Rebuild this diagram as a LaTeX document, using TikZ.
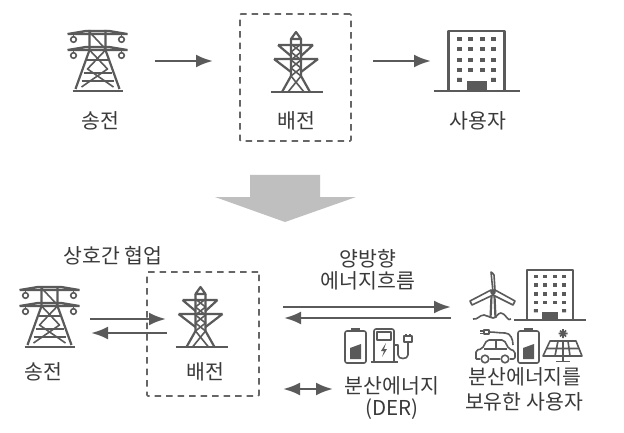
\documentclass[tikz,border=0pt]{standalone}
\usepackage{fontspec}
\setmainfont{Noto Sans CJK KR}
\usetikzlibrary{arrows.meta}
\definecolor{ink}{HTML}{5A5A5A}
\definecolor{txt}{HTML}{3A3A3A}
\definecolor{dash}{HTML}{666666}
\definecolor{bigar}{HTML}{BFBFBF}
\tikzset{
 x=1pt,y=-1pt,
 icon/.style={draw=ink,line width=2.2pt,line join=round},
 thin icon/.style={draw=ink,line width=1.6pt,line join=round},
 lbl/.style={text=txt,font=\fontsize{20.5}{24}\selectfont,inner sep=0pt},
 boxd/.style={draw=dash,line width=1.7pt,dash pattern=on 6.5pt off 5pt},
 conn/.style={draw=ink,line width=2.7pt,-{Latex[length=17pt,width=13pt]}},
 connb/.style={draw=ink,line width=2.7pt,{Latex[length=17pt,width=13pt]}-{Latex[length=17pt,width=13pt]}},
 bigtower/.pic={
  \draw[icon] (-30,5)--(-12,2)--(12,2)--(30,5) (-30,5)--(30,5);
  \draw[icon] (-30,21)--(-12,18)--(12,18)--(30,21) (-30,21)--(30,21);
  \draw[thin icon] (-24,6)--(-24,8) (24,6)--(24,8) (-24,22)--(-24,24) (24,22)--(24,24);
  \draw[thin icon] (-24,10.5) circle (2.8) (24,10.5) circle (2.8) (-24,26.5) circle (2.8) (24,26.5) circle (2.8);
  \draw[icon] (-8,1)--(-8,21)--(-22,60) (8,1)--(8,21)--(22,60);
  \draw[thin icon] (-8,3)--(8,20) (-8,21)--(10,40)--(-16,58) (8,21)--(-10,40)--(16,58);
  \draw[thin icon] (-11,31)--(11,31) (-14,44)--(14,44) (-16,52)--(16,52);
  \draw[icon,line width=2.8pt] (-25,62)--(25,62);
 },
 disttower/.pic={
  \draw[icon] (-5,7)--(0,0)--(5,7)--cycle;
  \draw[icon] (-5,7)--(-5,44)--(-14,60) (5,7)--(5,44)--(14,60);
  \draw[thin icon] (-5,12)--(5,20)--(-5,28)--(5,36)--(-5,44) (5,12)--(-5,20)--(5,28)--(-5,36)--(5,44);
  \draw[icon] (-18,13)--(17,13) (-18,13)--(-5,24) (17,13)--(5,24);
  \draw[icon] (-22,27)--(22,27) (-22,27)--(-5,40) (22,27)--(5,40);
  \draw[thin icon] (-5,44)--(8,60) (5,44)--(-8,60);
  \draw[icon] (-25,60)--(27,60);
 },
 office/.pic={
  \draw[icon] (-28,60)--(-28,0)--(28,0)--(28,60);
  \draw[icon] (-43,60)--(43,60);
  \foreach \yy in {8,18,29,39}{\foreach \xx in {-17,-6,6,17}{\fill[ink] (\xx-2.4,\yy-2) rectangle (\xx+2.4,\yy+2);}}
  \fill[ink] (-17-2.4,47) rectangle (-17+2.4,51) (17-2.4,47) rectangle (17+2.4,51);
  \fill[ink] (-10,50) rectangle (10,60);
 },
 cell/.pic={
  \draw[thin icon,rounded corners=2pt] (0,3) rectangle (21,35);
  \draw[thin icon] (6,1)--(15,1);
  \fill[ink] (5,20)--(16,16)--(16,31)--(5,31)--cycle;
 }
}
\begin{document}
\begin{tikzpicture}
\useasboundingbox (0,0) rectangle (624,433);
\fill[white] (0,0) rectangle (624,433);
% top row
\pic (ttop) at (97.5,29) {bigtower};
\pic (dtop) at (296,32) {disttower};
\pic (btop) at (476.5,31) {office};
\node[boxd,inner sep=0pt,rounded corners=1pt,minimum width=111pt,minimum height=127pt] (boxtop) at (295.5,77.5) {};
\node[lbl] (l1) at (100,121) {송전};
\node[lbl] (l2) at (296,121) {배전};
\node[lbl] (l3) at (478,121) {사용자};
\coordinate (a1s) at (155,61); \coordinate (a1e) at (213,61);
\coordinate (a2s) at (373,61); \coordinate (a2e) at (431,61);
\draw[conn] (a1s)--(a1e);
\draw[conn] (a2s)--(a2e);
% big arrow
\fill[bigar] (250,175)--(320,175)--(320,197)--(356,197)--(285,222)--(215,197)--(250,197)--cycle;
% bottom left
\pic (tlow) at (49.5,285) {bigtower};
\pic (dlow) at (200.5,287) {disttower};
\node[boxd,inner sep=0pt,rounded corners=1pt,minimum width=112pt,minimum height=124pt] (boxlow) at (203,334) {};
\node[lbl] (l4) at (113,256) {상호간 협업};
\node[lbl] (l5) at (43,372) {송전};
\node[lbl] (l6) at (205,372) {배전};
\coordinate (b1s) at (90,319); \coordinate (b1e) at (166,319);
\coordinate (b2s) at (167,333); \coordinate (b2e) at (91,333);
\draw[conn] (b1s)--(b1e);
\draw[conn] (b2s)--(b2e);
% middle
\node[lbl] (l7) at (368,259) {양방향};
\node[lbl] (l8) at (368,281) {에너지흐름};
\coordinate (c1s) at (283,307); \coordinate (c1e) at (451,307);
\coordinate (c2s) at (451,318); \coordinate (c2e) at (284,318);
\draw[conn] (c1s)--(c1e);
\draw[conn] (c2s)--(c2e);
\pic (cellmid) at (345,328) {cell};
% charger
\draw[thin icon,rounded corners=2pt] (374,361)--(374,329)--(394,329)--(394,361);
\draw[thin icon] (371,362)--(398,362);
\draw[thin icon] (377,332) rectangle (391,340);
\fill[ink] (386,343)--(381,351)--(384,351)--(382,357)--(387,349)--(384,349)--cycle;
\draw[thin icon] (394,345)--(398,345)--(398,355) to[out=-90,in=-90,looseness=1.2] (408,355)--(408,342);
\draw[thin icon] (404,342)--(412,342)--(412,336)--(404,336)--cycle;
\draw[thin icon] (406,336)--(406,334) (410,336)--(410,334);
\coordinate (d1s) at (283,389); \coordinate (d1e) at (333,389);
\draw[connb] (d1s)--(d1e);
\node[lbl] (l9) at (392,386) {분산에너지};
\node[lbl] (l10) at (392,409) {(DER)};
% right cluster: turbine
\draw[icon] (491.5,296)--(490.5,318) (494.5,296)--(495.5,318);
\draw[thin icon,fill=white] (493,292)--(491,272) to[out=-60,in=90] (494,275)--(495,290)--cycle;
\draw[thin icon,fill=white] (491,290)--(470,301)--(472,305)--(493,295)--cycle;
\draw[thin icon,fill=white] (495,290)--(515,301)--(513,305)--(493,295)--cycle;
\draw[thin icon] (493,292) circle (2);
\draw[thin icon] (473,319) to[out=-15,in=180] (484,315) to[out=0,in=180] (493,318) to[out=0,in=180] (501,313) to[out=0,in=-130] (511,319);
\pic[scale=.83] (blow) at (550,270) {office};
% car
\draw[thin icon,rounded corners=2pt] (476,359)--(476,350)--(482,349)--(487,340)--(504,340)--(509,349)--(515,351)--(515,359)--(510,359) (500,359)--(490,359) (480,359)--(476,359);
\draw[thin icon] (484,349)--(507,349) (496,340)--(496,349);
\draw[thin icon] (485,359) circle (3.8) (505,359) circle (3.8);
\draw[thin icon] (484,330) rectangle (489,334);
\draw[thin icon] (489,332) to[out=0,in=180] (505,333) to[out=0,in=90] (513,345);
\draw[thin icon] (480,331)--(484,331) (480,333.5)--(484,333.5);
\pic (cellr) at (518,328) {cell};
% solar
\draw[thin icon] (550,341)--(576,341)--(582,356)--(543,356)--cycle;
\draw[thin icon] (546,348.5)--(579,348.5) (558,341)--(555,356) (568,341)--(570,356) (563,341)--(563,356);
\draw[thin icon] (563,356)--(563,361) (556,361.5)--(570,361.5);
\draw[thin icon] (563,329)--(563,338) (558.5,333.5)--(567.5,333.5) (560,330.5)--(566,336.5) (566,330.5)--(560,336.5);
\node[lbl] (l11) at (525,377) {분산에너지를};
\node[lbl] (l12) at (524,402) {보유한 사용자};
\end{tikzpicture}
\end{document}
